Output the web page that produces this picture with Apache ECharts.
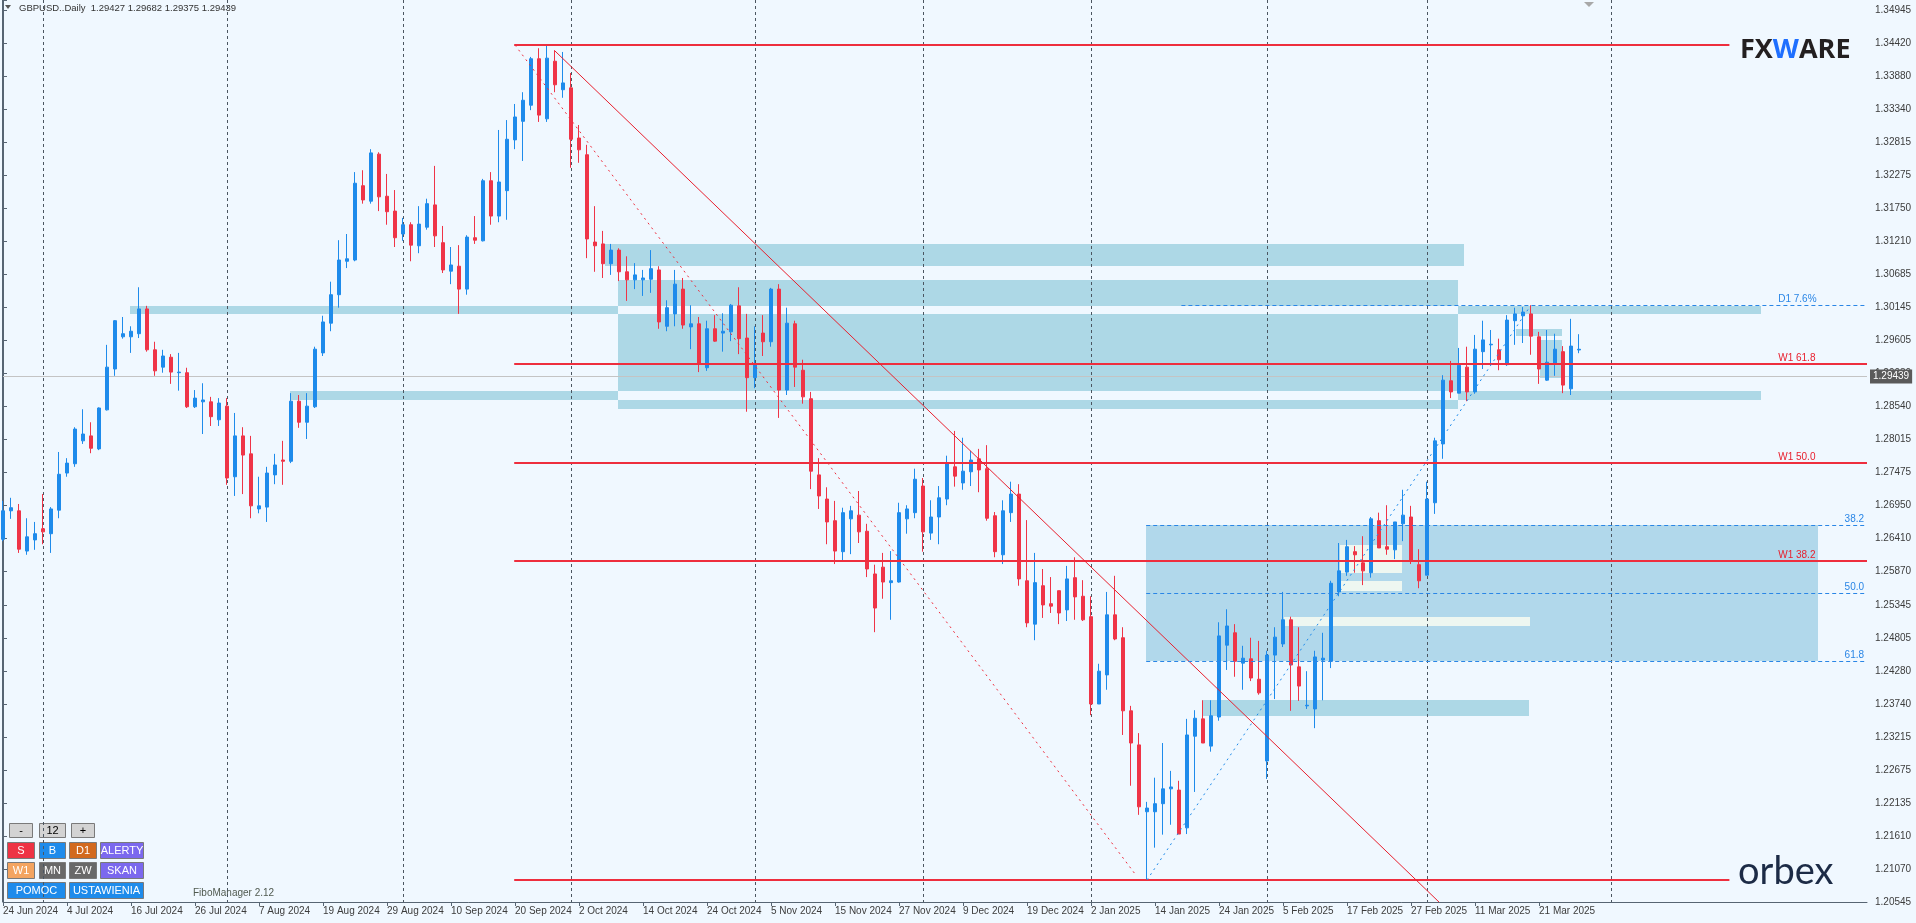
<!DOCTYPE html>
<html><head><meta charset="utf-8">
<script src="https://cdn.jsdelivr.net/npm/echarts@6/dist/echarts.min.js"></script>
<style>html,body{margin:0;padding:0;background:#F0F8FF;}#c{width:1916px;height:923px;}</style>
</head><body><div id="c"></div>
<script>
// ---------- DATA ----------
const symbolName = 'GBPUSD..Daily';
const xTickLabels = ['24 Jun 2024','4 Jul 2024','16 Jul 2024','26 Jul 2024','7 Aug 2024','19 Aug 2024','29 Aug 2024','10 Sep 2024','20 Sep 2024','2 Oct 2024','14 Oct 2024','24 Oct 2024','5 Nov 2024','15 Nov 2024','27 Nov 2024','9 Dec 2024','19 Dec 2024','2 Jan 2025','14 Jan 2025','24 Jan 2025','5 Feb 2025','17 Feb 2025','27 Feb 2025','11 Mar 2025','21 Mar 2025'];
const yTickLabels = ['1.20545','1.21070','1.21610','1.22135','1.22675','1.23215','1.23740','1.24280','1.24805','1.25345','1.25870','1.26410','1.26950','1.27475','1.28015','1.28540','1.29080','1.29605','1.30145','1.30685','1.31210','1.31750','1.32275','1.32815','1.33340','1.33880','1.34420','1.34945'];
// [open, close, low, high]
const ohlc = [
[1.2637,1.2683,1.2634,1.2699],[1.2683,1.2688,1.2670,1.2704],[1.2683,1.2621,1.2615,1.2694],[1.2618,1.2641,1.2612,1.2671],
[1.2636,1.2646,1.2620,1.2665],[1.2654,1.2649,1.2629,1.2710],[1.2646,1.2686,1.2615,1.2689],[1.2684,1.2742,1.2671,1.2778],
[1.2744,1.2760,1.2738,1.2768],[1.2759,1.2815,1.2754,1.2818],[1.2796,1.2807,1.2791,1.2847],[1.2804,1.2784,1.2776,1.2826],
[1.2783,1.2849,1.2781,1.2850],[1.2846,1.2915,1.2845,1.2951],[1.2912,1.2990,1.2901,1.2991],[1.2964,1.2969,1.2961,1.2996],
[1.2964,1.2973,1.2938,1.2981],[1.2969,1.3009,1.2962,1.3044],[1.3009,1.2943,1.2940,1.3014],[1.2943,1.2909,1.2901,1.2956],
[1.2915,1.2933,1.2906,1.2943],[1.2931,1.2907,1.2888,1.2936],[1.2906,1.2907,1.2877,1.2938],[1.2906,1.2851,1.2849,1.2914],
[1.2851,1.2865,1.2849,1.2878],[1.2859,1.2862,1.2807,1.2889],[1.2859,1.2835,1.2820,1.2867],[1.2830,1.2857,1.2820,1.2865],
[1.2852,1.2736,1.2725,1.2865],[1.2738,1.2804,1.2707,1.2841],[1.2804,1.2773,1.2710,1.2818],[1.2775,1.2691,1.2671,1.2804],
[1.2686,1.2691,1.2679,1.2738],[1.2689,1.2744,1.2665,1.2754],[1.2741,1.2757,1.2726,1.2775],[1.2765,1.2763,1.2725,1.2796],
[1.2763,1.2860,1.2760,1.2873],[1.2860,1.2826,1.2817,1.2870],[1.2826,1.2852,1.2799,1.2873],[1.2851,1.2944,1.2849,1.2948],
[1.2938,1.2988,1.2933,1.2998],[1.2986,1.3032,1.2973,1.3053],[1.3032,1.3088,1.3011,1.3120],[1.3086,1.3090,1.3075,1.3130],
[1.3088,1.3212,1.3086,1.3230],[1.3208,1.3185,1.3179,1.3233],[1.3183,1.3261,1.3179,1.3267],[1.3259,1.3190,1.3167,1.3262],
[1.3191,1.3166,1.3145,1.3227],[1.3167,1.3124,1.3109,1.3201],[1.3130,1.3145,1.3119,1.3156],[1.3145,1.3112,1.3086,1.3149],
[1.3111,1.3146,1.3099,1.3175],[1.3141,1.3179,1.3137,1.3187],[1.3177,1.3127,1.3109,1.3240],[1.3116,1.3072,1.3067,1.3143],
[1.3070,1.3080,1.3049,1.3109],[1.3078,1.3041,1.3001,1.3112],[1.3041,1.3125,1.3032,1.3128],[1.3124,1.3120,1.3114,1.3159],
[1.3119,1.3216,1.3118,1.3219],[1.3216,1.3159,1.3145,1.3230],[1.3159,1.3214,1.3149,1.3298],[1.3200,1.3283,1.3153,1.3314],
[1.3282,1.3319,1.3267,1.3340],[1.3312,1.3346,1.3248,1.3359],[1.3338,1.3413,1.3330,1.3416],[1.3413,1.3322,1.3311,1.3430],
[1.3316,1.3414,1.3311,1.3435],[1.3409,1.3371,1.3359,1.3427],[1.3363,1.3374,1.3350,1.3424],[1.3366,1.3283,1.3237,1.3390],
[1.3285,1.3266,1.3245,1.3306],[1.3258,1.3122,1.3091,1.3274],[1.3117,1.3111,1.3069,1.3175],[1.3114,1.3082,1.3059,1.3135],
[1.3082,1.3104,1.3064,1.3114],[1.3104,1.3069,1.3054,1.3107],[1.3069,1.3056,1.3022,1.3094],[1.3056,1.3064,1.3041,1.3083],
[1.3056,1.3059,1.3030,1.3072],[1.3057,1.3074,1.3035,1.3104],[1.3072,1.2988,1.2977,1.3078],[1.2981,1.3011,1.2973,1.3023],
[1.3001,1.3049,1.2981,1.3072],[1.3041,1.2983,1.2977,1.3059],[1.2980,1.2985,1.2944,1.3015],[1.2985,1.2920,1.2907,1.2996],
[1.2914,1.2977,1.2909,1.2990],[1.2977,1.2957,1.2956,1.2999],[1.2970,1.2973,1.2940,1.3002],[1.2972,1.3015,1.2957,1.3017],
[1.3014,1.2961,1.2936,1.3044],[1.2962,1.2898,1.2843,1.3001],[1.2898,1.2920,1.2881,1.2981],[1.2970,1.2956,1.2933,1.2999],
[1.2956,1.3041,1.2948,1.3043],[1.3041,1.2878,1.2833,1.3049],[1.2878,1.2986,1.2870,1.3011],[1.2985,1.2915,1.2883,1.2990],
[1.2910,1.2867,1.2856,1.2927],[1.2864,1.2747,1.2718,1.2875],[1.2741,1.2707,1.2686,1.2768],[1.2702,1.2665,1.2629,1.2721],
[1.2667,1.2618,1.2597,1.2699],[1.2617,1.2680,1.2602,1.2688],[1.2670,1.2683,1.2613,1.2691],[1.2676,1.2649,1.2631,1.2715],
[1.2650,1.2589,1.2576,1.2662],[1.2581,1.2526,1.2487,1.2596],[1.2592,1.2568,1.2541,1.2615],[1.2567,1.2570,1.2507,1.2618],
[1.2568,1.2680,1.2567,1.2696],[1.2670,1.2686,1.2646,1.2692],[1.2680,1.2734,1.2671,1.2751],[1.2723,1.2649,1.2617,1.2736],
[1.2647,1.2673,1.2636,1.2700],[1.2673,1.2704,1.2629,1.2723],[1.2702,1.2759,1.2692,1.2772],[1.2754,1.2739,1.2722,1.2812],
[1.2728,1.2747,1.2717,1.2801],[1.2746,1.2765,1.2723,1.2780],[1.2767,1.2749,1.2713,1.2783],[1.2751,1.2671,1.2667,1.2789],
[1.2675,1.2617,1.2608,1.2681],[1.2612,1.2683,1.2597,1.2700],[1.2680,1.2710,1.2665,1.2730],[1.2710,1.2573,1.2562,1.2726],
[1.2570,1.2502,1.2495,1.2668],[1.2500,1.2567,1.2474,1.2615],[1.2562,1.2531,1.2510,1.2589],[1.2533,1.2529,1.2518,1.2576],
[1.2554,1.2518,1.2500,1.2554],[1.2523,1.2573,1.2505,1.2594],[1.2575,1.2544,1.2507,1.2608],[1.2545,1.2507,1.2505,1.2571],
[1.2512,1.2371,1.2353,1.2545],[1.2371,1.2424,1.2371,1.2436],[1.2418,1.2515,1.2394,1.2552],[1.2515,1.2476,1.2474,1.2578],
[1.2478,1.2360,1.2321,1.2495],[1.2360,1.2308,1.2239,1.2368],[1.2305,1.2205,1.2192,1.2324],[1.2197,1.2203,1.2087,1.2213],
[1.2197,1.2210,1.2139,1.2252],[1.2210,1.2234,1.2160,1.2308],[1.2234,1.2237,1.2176,1.2263],[1.2232,1.2161,1.2161,1.2247],
[1.2171,1.2321,1.2161,1.2347],[1.2319,1.2348,1.2229,1.2361],[1.2347,1.2308,1.2308,1.2377],[1.2303,1.2352,1.2294,1.2377],
[1.2350,1.2481,1.2344,1.2503],[1.2466,1.2497,1.2426,1.2524],[1.2486,1.2440,1.2415,1.2500],[1.2437,1.2445,1.2394,1.2465],
[1.2444,1.2413,1.2408,1.2478],[1.2411,1.2389,1.2386,1.2473],[1.2279,1.2450,1.2250,1.2457],[1.2450,1.2479,1.2379,1.2495],
[1.2468,1.2507,1.2463,1.2552],[1.2507,1.2434,1.2360,1.2512],[1.2431,1.2400,1.2376,1.2495],[1.2368,1.2369,1.2363,1.2424],
[1.2363,1.2447,1.2332,1.2457],[1.2442,1.2445,1.2377,1.2486],[1.2440,1.2566,1.2429,1.2570],[1.2552,1.2586,1.2545,1.2631],
[1.2584,1.2625,1.2578,1.2636],[1.2617,1.2612,1.2583,1.2626],[1.2599,1.2586,1.2563,1.2642],[1.2583,1.2670,1.2575,1.2673],
[1.2667,1.2623,1.2623,1.2680],[1.2625,1.2621,1.2612,1.2692],[1.2620,1.2665,1.2605,1.2665],[1.2662,1.2676,1.2634,1.2717],
[1.2673,1.2602,1.2597,1.2691],[1.2596,1.2570,1.2558,1.2621],[1.2579,1.2702,1.2579,1.2730],[1.2696,1.2796,1.2678,1.2801],
[1.2791,1.2894,1.2767,1.2902],[1.2893,1.2875,1.2865,1.2925],[1.2873,1.2918,1.2873,1.2946],[1.2915,1.2875,1.2860,1.2948],
[1.2875,1.2944,1.2872,1.2967],[1.2940,1.2959,1.2912,1.2990],[1.2951,1.2952,1.2920,1.2975],[1.2943,1.2927,1.2910,1.2961],
[1.2919,1.2991,1.2917,1.2999],[1.2990,1.3001,1.2951,1.3011],[1.2998,1.3004,1.2954,1.3012],[1.3001,1.2965,1.2935,1.3015],
[1.2964,1.2912,1.2888,1.2972],[1.2894,1.2923,1.2893,1.2975],[1.2920,1.2944,1.2901,1.2969],[1.2940,1.2886,1.2873,1.2949],
[1.2880,1.2949,1.2870,1.2993],[1.29427,1.29439,1.29375,1.29682]
];
const futureSlots = 36;           // empty bars kept on the right (chart shift)
const monthStartBars = [5, 28, 50, 71, 94, 115, 136, 158, 178, 201];
// zones: [barFrom, barTo, priceTop, priceBottom]
const supplyDemandZones = [
  [75.2, 182.6, 1.31139, 1.30784],
  [76.9, 181.9, 1.30558, 1.30137],
  [76.9, 181.9, 1.30008, 1.28765],
  [76.9, 181.9, 1.28619, 1.28474],
  [15.9, 76.9, 1.30137, 1.30008],
  [35.9, 76.9, 1.28765, 1.28619],
  [181.9, 219.8, 1.30137, 1.30008],
  [181.9, 219.8, 1.28765, 1.28619],
  [149.9, 190.8, 1.23775, 1.23516],
  [189.1, 194.9, 1.29766, 1.29653],
  [192.1, 194.9, 1.29588, 1.28975]
];
const fiboZone = [[142.9, 226.9, 1.26600, 1.24404]];
const lightZones = [
  [167.1, 174.9, 1.26278, 1.25826],
  [167.1, 174.9, 1.25697, 1.25535],
  [160.1, 190.9, 1.25115, 1.24970]
];
// segments: [barFrom, priceFrom, barTo, priceTo]
const redLevelLines = [
  [63.9, 1.34352, 215.8, 1.34352],
  [63.9, 1.20868, 215.8, 1.20868],
  [63.9, 1.29201, 233, 1.29201],
  [63.9, 1.27602, 233, 1.27602],
  [63.9, 1.26020, 233, 1.26020]
];
const redTrendLine = [[69, 1.34255, 180, 1.20450]];
const redDottedLine = [[64, 1.34352, 141.6, 1.20949]];
const blueDottedLine = [[143, 1.20868, 190.75, 1.30105]];
const blueDashedLines = [
  [147.3, 1.30153, 233, 1.30153],
  [142.9, 1.26600, 233, 1.26600],
  [142.9, 1.25502, 233, 1.25502],
  [142.9, 1.24404, 233, 1.24404]
];
const redLevelNames = ['W1 61.8', 'W1 50.0', 'W1 38.2'];
const redLevelPrices = [1.29201, 1.27602, 1.26020];
const blueLevelNames = ['D1 7.6%', '38.2', '50.0', '61.8'];
const blueLevelPrices = [1.30153, 1.26600, 1.25502, 1.24404];

// ---------- SCALES ----------
const FONT = 'Liberation Sans, Arial, sans-serif';
const yMin = 1.205126, yMax = 1.35079;
const yInterval = 0.144 / 27;
const firstTickK = 226;
const nCat = ohlc.length + futureSlots;

// categories: trading dates
const categories = [];
(function(){
  const d = new Date(Date.UTC(2024, 5, 24));
  const mon = ['Jan','Feb','Mar','Apr','May','Jun','Jul','Aug','Sep','Oct','Nov','Dec'];
  while (categories.length < ohlc.length) {
    const wd = d.getUTCDay(), m = d.getUTCMonth(), dd = d.getUTCDate();
    const holiday = (m === 11 && dd === 25) || (m === 0 && dd === 1);
    if (wd !== 0 && wd !== 6 && !holiday) categories.push(dd + ' ' + mon[m] + ' ' + d.getUTCFullYear());
    d.setUTCDate(dd + 1);
  }
  for (let i = 0; i < futureSlots; i++) categories.push('');
})();

const last = ohlc[ohlc.length - 1];
const bull = '#1E8BEB', bear = '#EF3447';

function isTickIdx(idx) { return idx % 8 === 0 && idx / 8 < xTickLabels.length; }

function rectSeries(name, data, fill, z) {
  return { name, type: 'custom', xAxisIndex: 1, yAxisIndex: 0, z, silent: true, clip: true,
    encode: { x: [0, 1], y: [2, 3] }, data,
    renderItem: function (params, api) {
      const a = api.coord([api.value(0), api.value(2)]);
      const b = api.coord([api.value(1), api.value(3)]);
      return { type: 'rect', shape: { x: Math.round(Math.min(a[0], b[0])), y: Math.round(Math.min(a[1], b[1])),
        width: Math.round(Math.abs(b[0] - a[0])), height: Math.round(Math.abs(b[1] - a[1])) }, style: { fill } };
    } };
}
function segSeries(name, data, stroke, width, dash, z, crisp) {
  return { name, type: 'custom', xAxisIndex: 1, yAxisIndex: 0, z, silent: true, clip: true,
    encode: { x: [0, 2], y: [1, 3] }, data,
    renderItem: function (params, api) {
      const a = api.coord([api.value(0), api.value(1)]);
      const b = api.coord([api.value(2), api.value(3)]);
      let y1 = a[1], y2 = b[1];
      if (crisp) { y1 = Math.round(y1) + (width % 2 ? 0.5 : 0); y2 = y1; }
      return { type: 'line', shape: { x1: a[0], y1, x2: b[0], y2 },
        style: { stroke, lineWidth: width, lineDash: dash || null } };
    } };
}
function labelSeries(name, prices, names, barX, color, z) {
  return { name, type: 'custom', xAxisIndex: 1, yAxisIndex: 0, z, silent: true, clip: false,
    encode: { x: 0, y: 1 }, data: prices.map(p => [barX, p]),
    renderItem: function (params, api) {
      const a = api.coord([api.value(0), api.value(1)]);
      return { type: 'text', x: a[0], y: Math.round(a[1]) - 1,
        style: { text: names[params.dataIndex], fill: color, font: '10px ' + FONT, align: 'left', verticalAlign: 'bottom' } };
    } };
}

const option = {
  animation: false,
  backgroundColor: '#F0F8FF',
  grid: { left: 3, right: 49, top: 0, bottom: 21, containLabel: false },
  xAxis: [
    { type: 'category', data: categories, boundaryGap: false,
      axisLine: { show: true, lineStyle: { color: '#576573', width: 1 } },
      axisTick: { show: true, interval: isTickIdx, length: 4, lineStyle: { color: '#576573' } },
      axisLabel: { interval: isTickIdx, align: 'left', margin: 4, fontSize: 10, fontFamily: FONT, color: '#3C3C3C',
        formatter: function (v, idx) { return isTickIdx(idx) ? xTickLabels[idx / 8] : ''; } },
      splitLine: { show: false } },
    { type: 'value', min: 0, max: nCat - 1, show: false }
  ],
  yAxis: [{ type: 'value', position: 'right', offset: 3, min: yMin, max: yMax, interval: yInterval,
    axisLine: { show: true, lineStyle: { color: '#576573' } },
    axisTick: { show: true, length: 4, lineStyle: { color: '#576573' } },
    splitLine: { show: false },
    axisLabel: { fontSize: 10, fontFamily: FONT, color: '#3C3C3C', margin: 5,
      formatter: function (v) {
        const k = Math.round(v / yInterval); const j = k - firstTickK;
        if (j < 0 || j >= yTickLabels.length || Math.abs(v - k * yInterval) > yInterval * 0.05) return '';
        return yTickLabels[j];
      } } }],
  series: [
    rectSeries('zones', supplyDemandZones, '#ADD8E6', 1),
    rectSeries('fibo', fiboZone, '#B1D8EB', 1),
    rectSeries('light', lightZones, '#EEF7F1', 2),
    { name: 'sep', type: 'custom', xAxisIndex: 1, yAxisIndex: 0, z: 3, silent: true, clip: true,
      encode: { x: 0 }, data: monthStartBars.map(b => [b]),
      renderItem: function (params, api) {
        const cs = params.coordSys;
        const x = Math.round(api.coord([api.value(0), yMax])[0]) + 0.5;
        return { type: 'line', shape: { x1: x, y1: cs.y, x2: x, y2: cs.y + cs.height },
          style: { stroke: '#4B5661', lineWidth: 1, lineDash: [3, 3] } };
      } },
    { name: symbolName, type: 'candlestick', xAxisIndex: 0, yAxisIndex: 0, z: 5, barWidth: 4, data: ohlc,
      itemStyle: { color: bull, color0: bear, borderColor: bull, borderColor0: bear, borderWidth: 1 },
      markLine: { silent: true, symbol: ['none', 'none'], animation: false,
        data: [{ yAxis: last[1] }],
        lineStyle: { color: '#C4C4C4', type: 'solid', width: 1 },
        label: { show: true, position: 'end', distance: 3, formatter: last[1].toFixed(5),
          backgroundColor: '#5A5A5A', color: '#FFFFFF', fontSize: 10, fontFamily: FONT, padding: [2, 3, 2, 3] } } },
    segSeries('redLevels', redLevelLines, '#EE2E3E', 2, null, 6, true),
    segSeries('redTrend', redTrendLine, '#E8202E', 1, null, 6, false),
    segSeries('redDotted', redDottedLine, '#EE2E3E', 1, [2, 4], 6, false),
    segSeries('blueDotted', blueDottedLine, '#1E8BEB', 1, [2, 4], 6, false),
    segSeries('blueDashed', blueDashedLines, '#2A86E6', 1, [4, 3], 6, true),
    labelSeries('redNames', redLevelPrices, redLevelNames, 221.9, '#E8202E', 7),
    labelSeries('blueNameD1', blueLevelPrices.slice(0, 1), blueLevelNames.slice(0, 1), 221.9, '#2A86E6', 7),
    labelSeries('blueNamesFib', blueLevelPrices.slice(1), blueLevelNames.slice(1), 230.2, '#2A86E6', 7)
  ],
  graphic: []
};

function btn(x, y, w, h, fill, label, tc) {
  return { type: 'group', x: x, y: y, silent: true, children: [
    { type: 'rect', shape: { x: 0.5, y: 0.5, width: w, height: h }, style: { fill: fill, stroke: '#7A7A7A', lineWidth: 1 } },
    { type: 'text', x: w / 2 + 0.5, y: h / 2 + 1, style: { text: label, fill: tc, font: '11px ' + FONT, align: 'center', verticalAlign: 'middle' } }
  ] };
}
option.graphic = [
  { type: 'line', silent: true, shape: { x1: 2.5, y1: 0, x2: 2.5, y2: 902 }, style: { stroke: '#576573', lineWidth: 1 } },
  { type: 'polygon', silent: true, shape: { points: [[5, 5], [11, 5], [8, 9]] }, style: { fill: '#555' } },
  { type: 'text', silent: true, x: 19, y: 3, style: { text: symbolName + '  ' + last[0].toFixed(5) + ' ' + last[3].toFixed(5) + ' ' + last[2].toFixed(5) + ' ' + last[1].toFixed(5),
      fill: '#333', font: '9.5px ' + FONT } },
  { type: 'polygon', silent: true, shape: { points: [[1584, 2], [1594, 2], [1589, 7]] }, style: { fill: '#A8A8A8' } },
  { type: 'text', silent: true, x: 1740, y: 37, style: { text: '{a|FX}{w|W}{a|ARE}',
      rich: { a: { fontSize: 27, fontWeight: 'bold', fontFamily: 'Open Sans, ' + FONT, fill: '#231F20', color: '#231F20' },
              w: { fontSize: 27, fontWeight: 'bold', fontFamily: 'Open Sans, ' + FONT, fill: '#1E6FFF', color: '#1E6FFF' } } } },
  { type: 'text', silent: true, x: 1738, y: 853, style: { text: 'orbex', fill: '#1C2B46', font: '38px Lato, ' + FONT } },
  { type: 'text', silent: true, x: 193, y: 888, style: { text: 'FiboManager 2.12', fill: '#505A50', font: '10px ' + FONT } },
  btn(9, 823, 23, 14, '#D3D3D3', '-', '#000'),
  btn(39, 823, 26, 14, '#D3D3D3', '12', '#000'),
  btn(71, 823, 23, 14, '#D3D3D3', '+', '#000'),
  btn(7, 842, 27, 16, '#EE3344', 'S', '#fff'),
  btn(39, 842, 26, 16, '#1E8BEB', 'B', '#fff'),
  btn(69, 842, 27, 16, '#D2691E', 'D1', '#fff'),
  btn(100, 842, 43, 16, '#7B68EE', 'ALERTY', '#fff'),
  btn(7, 862, 27, 16, '#F4A460', 'W1', '#fff'),
  btn(39, 862, 26, 16, '#696969', 'MN', '#fff'),
  btn(69, 862, 27, 16, '#696969', 'ZW', '#fff'),
  btn(100, 862, 43, 16, '#7B68EE', 'SKAN', '#fff'),
  btn(7, 882, 58, 16, '#1E8BEB', 'POMOC', '#fff'),
  btn(69, 882, 74, 16, '#1E8BEB', 'USTAWIENIA', '#fff')
];

const chart = echarts.init(document.getElementById('c'), null, { renderer: 'canvas' });
chart.setOption(option);
</script></body></html>
